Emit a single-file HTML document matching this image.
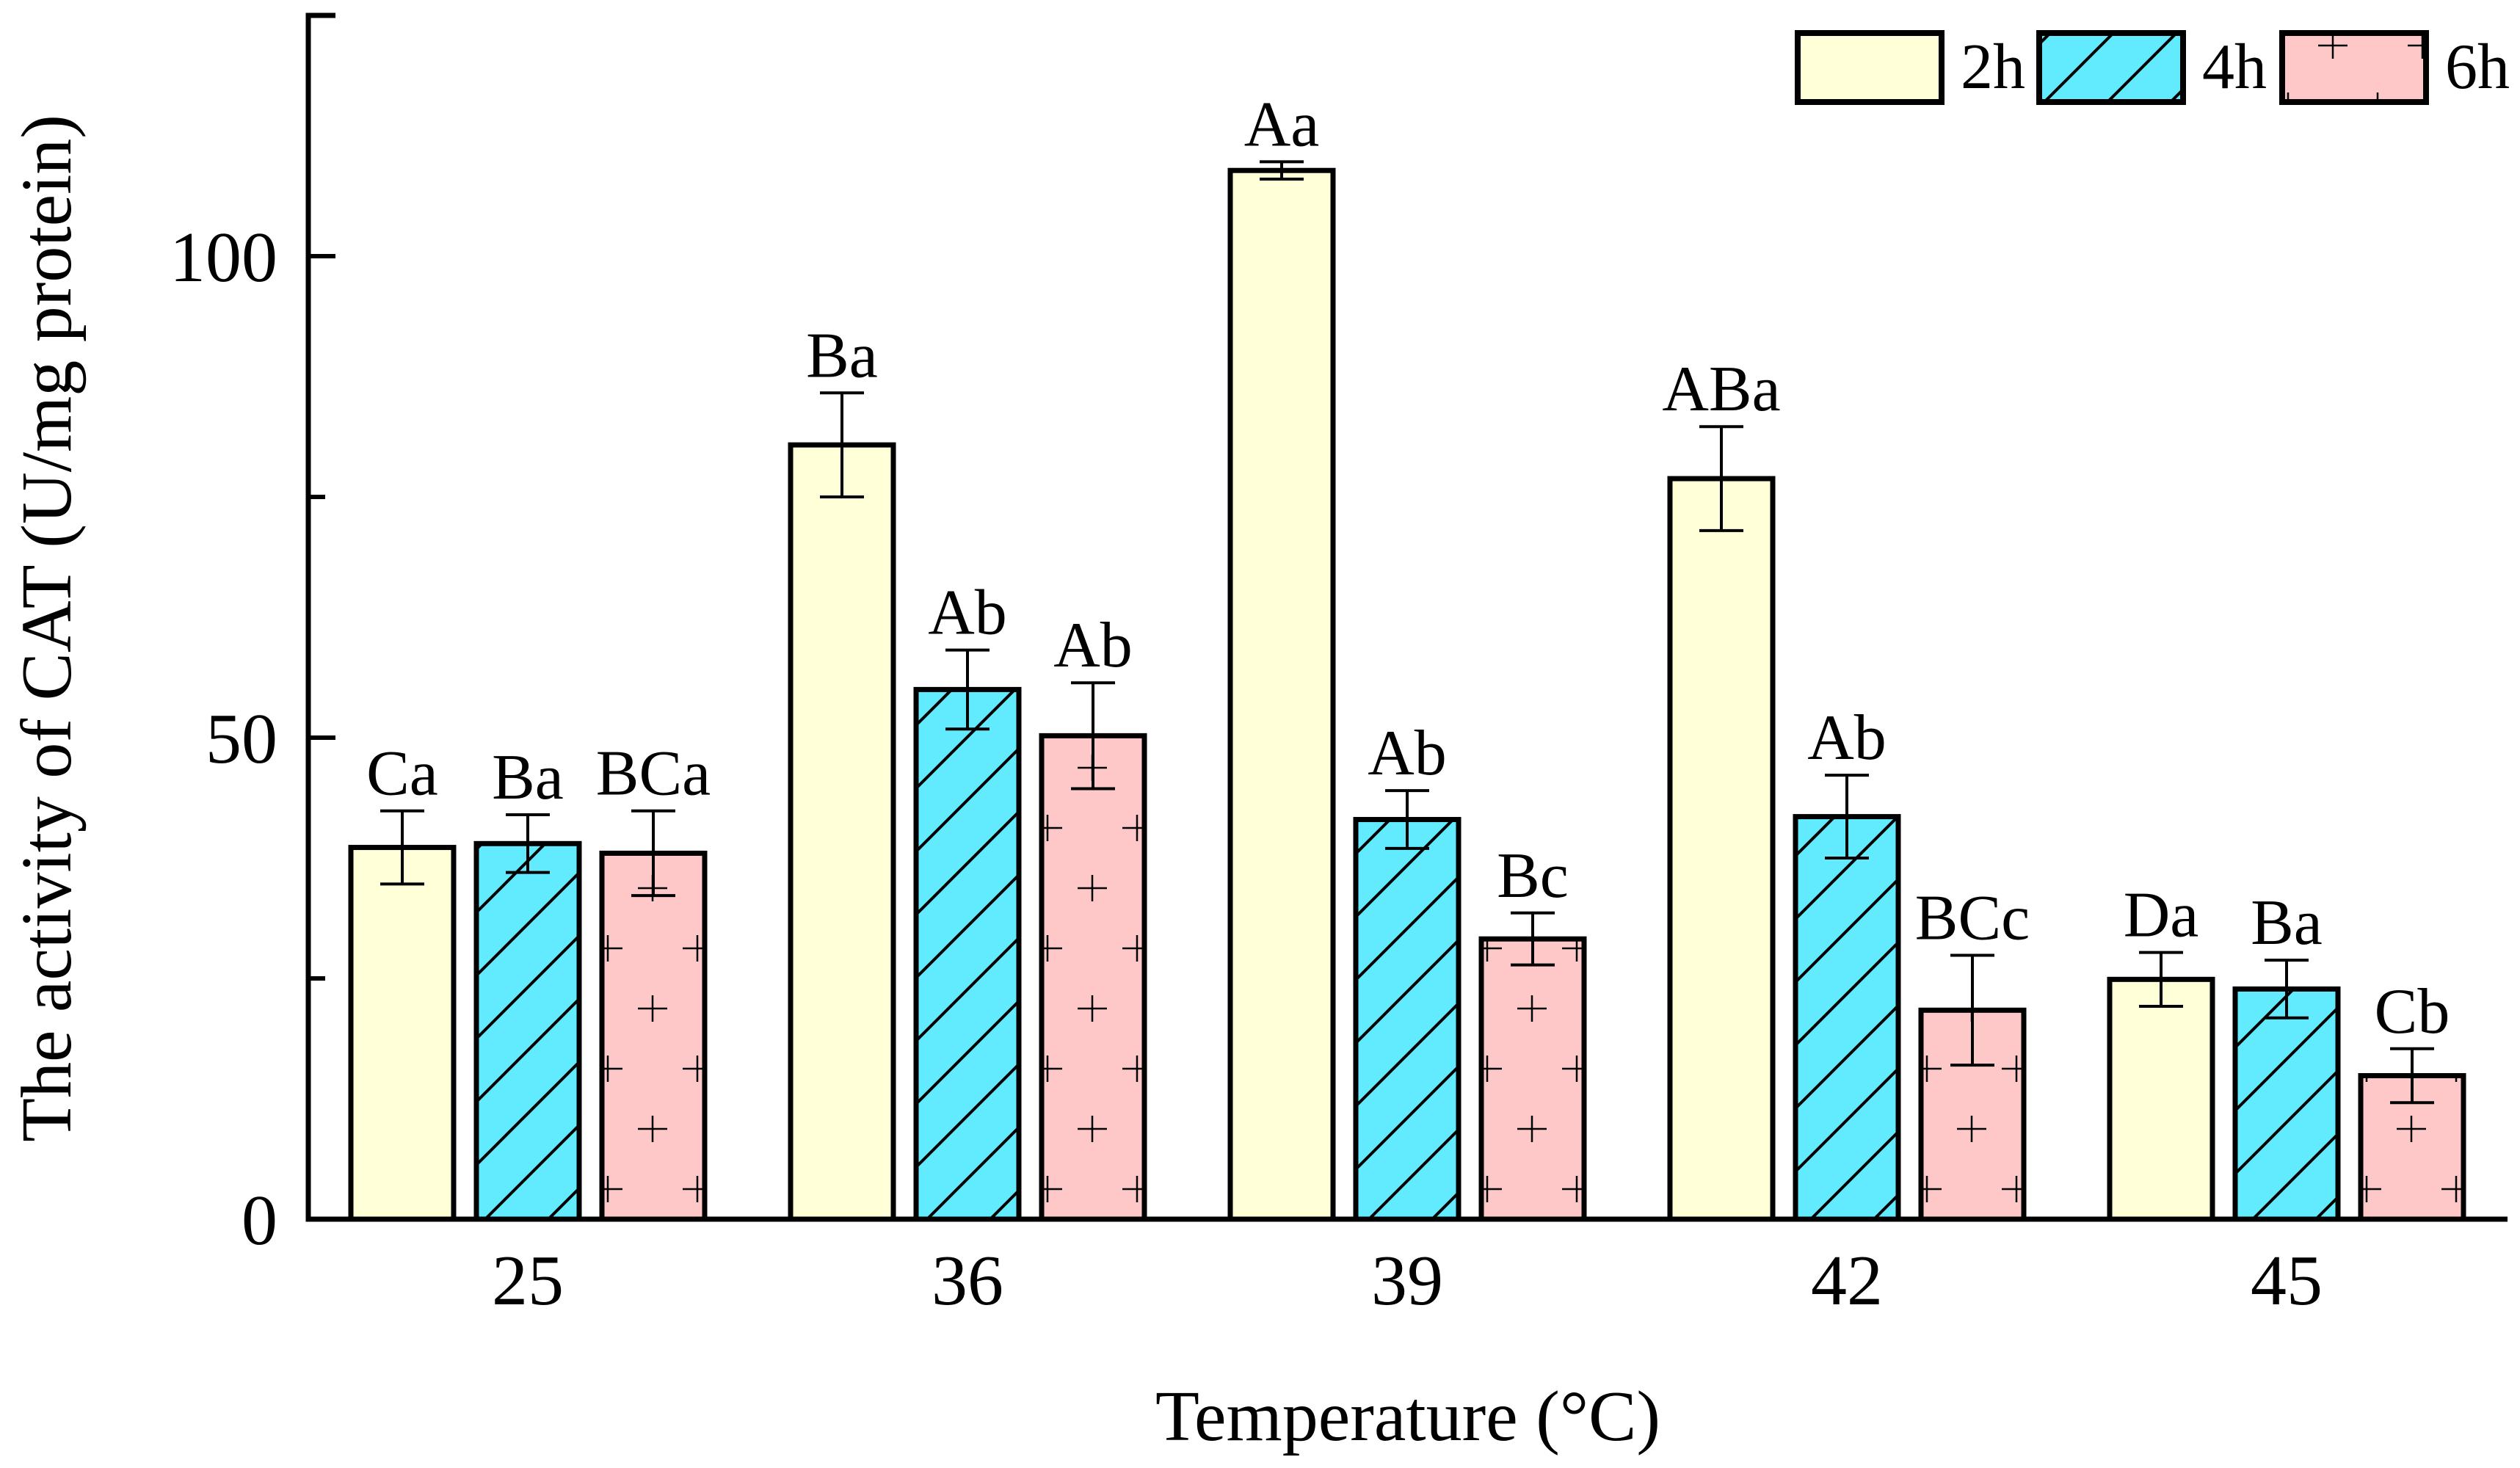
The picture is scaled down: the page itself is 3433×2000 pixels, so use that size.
<!DOCTYPE html>
<html><head><meta charset="utf-8"><style>
html,body{margin:0;padding:0;background:#fff}
svg{display:block}
text{font-family:"Liberation Serif","Times New Roman",serif;fill:#000}
</style></head><body>
<svg id="chart" width="3433" height="2000" viewBox="0 0 3433 2000" xmlns="http://www.w3.org/2000/svg">
<defs id="defs">
<pattern id="hatch4" patternUnits="userSpaceOnUse" width="86" height="86">
<rect width="86" height="86" fill="#62EAFF"/>
<path d="M-10,96 L96,-10 M-53,53 L53,-53 M33,139 L139,33" stroke="#000" stroke-width="4"/>
</pattern>
</defs>
<g id="plot"></g>
</svg>
<script>
const categories = ["25","36","39","42","45"];
const seriesNames = ["2h","4h","6h"];
const values2h = [38.6, 80.4, 108.9, 76.9, 24.9];
const values4h = [39.0, 55.0, 41.5, 41.8, 23.9];
const values6h = [38.0, 50.2, 29.1, 21.7, 14.9];
const errors2h = [3.8, 5.4, 0.9, 5.4, 2.8];
const errors4h = [3.0, 4.1, 3.0, 4.3, 3.0];
const errors6h = [4.4, 5.5, 2.7, 5.7, 2.8];
const labels2h = ["Ca","Ba","Aa","ABa","Da"];
const labels4h = ["Ba","Ab","Ab","Ab","Ba"];
const labels6h = ["BCa","Ab","Bc","BCc","Cb"];
const yMajorTicks = [0, 50, 100];
const yMinorTicks = [25, 75, 125];

const NS = "http://www.w3.org/2000/svg";
const g = document.getElementById("plot");
const defs = document.getElementById("defs");
const X0 = 420, X1 = 3416, Y0 = 1661, YMAX = 125, YTOP = 21;
function y(v){ return Y0 - v/YMAX*(Y0-YTOP); }
function xc(i){ return 719 + i*599; }
const barW = 140, barGap = 171;
function el(tag, attrs, parent){
  const e = document.createElementNS(NS, tag);
  for (const k in attrs) e.setAttribute(k, attrs[k]);
  (parent||g).appendChild(e);
  return e;
}
function crossPattern(id, x0){
  const p = el("pattern", {id: id, patternUnits:"userSpaceOnUse", width:122, height:164, x: x0+8, y: Y0}, defs);
  el("rect", {width:122, height:164, fill:"#FFC8C8"}, p);
  el("path", {d:"M41,41 h40 M61,23 v36 M-20,123 h40 M0,105 v36 M102,123 h40 M122,105 v36", stroke:"#000", "stroke-width":2.5}, p);
}
crossPattern("hatch6", 3109);
const fills = ["#FFFFD8", "url(#hatch4)", null];
const allVals = [values2h, values4h, values6h];
const allErr = [errors2h, errors4h, errors6h];
const allLab = [labels2h, labels4h, labels6h];

categories.forEach((c, i) => {
  for (let s = 0; s < 3; s++) {
    const cx = xc(i) + (s-1)*barGap;
    const v = allVals[s][i], e = allErr[s][i];
    let fill = fills[s];
    if (s === 2) { crossPattern("cross" + i, cx - barW/2); fill = "url(#cross" + i + ")"; }
    const r = el("rect", {x: cx-barW/2, y: y(v), width: barW, height: Y0-y(v), fill: fill, stroke:"#000", "stroke-width": 7});
    
    
    const eb = el("path", {d: `M${cx},${y(v+e)} V${y(v-e)} M${cx-30},${y(v+e)} h60 M${cx-30},${y(v-e)} h60`, stroke:"#000", "stroke-width": 4, fill:"none"});
    
    
    const t = el("text", {x: cx, y: y(v+e)-22, "font-size": 88, "text-anchor":"middle"});
    t.textContent = allLab[s][i];
    
    
  }
  const tl = el("text", {x: xc(i), y: 1777, "font-size": 98, "text-anchor":"middle"});
  tl.textContent = c;
  
  
});

const axes = el("path", {d: `M${X0+37},${YTOP} H${X0} V${Y0} H${X1}`, stroke:"#000", "stroke-width": 7, fill:"none"});


yMajorTicks.forEach(v => {
  const t = el("line", {x1: X0, x2: X0+37, y1: y(v), y2: y(v), stroke:"#000", "stroke-width": 6});
  
  
  const l = el("text", {x: 378, y: y(v)+34, "font-size": 98, "text-anchor":"end"});
  l.textContent = v;
  
  
});
yMinorTicks.forEach(v => {
  const t = el("line", {x1: X0, x2: X0+23, y1: y(v), y2: y(v), stroke:"#000", "stroke-width": 6});
  
  
});

const yt = el("text", {x: 0, y: 0, "font-size": 98, "text-anchor":"middle", transform: "translate(96,856) rotate(-90)"});
yt.textContent = "The activity of CAT (U/mg protein)";


const xt = el("text", {x: 1918, y: 1962, "font-size": 98, "text-anchor":"middle"});
xt.textContent = "Temperature (°C)";



const legX = [2449, 2778, 3109];
seriesNames.forEach((n, s) => {
  const r = el("rect", {x: legX[s], y: 45, width: 196, height: 94, fill: s===2 ? "url(#hatch6)" : fills[s], stroke:"#000", "stroke-width": 8});
  
  
  const t = el("text", {x: legX[s]+222, y: 120, "font-size": 88});
  t.textContent = n;
  
  
});
</script>
</body></html>
